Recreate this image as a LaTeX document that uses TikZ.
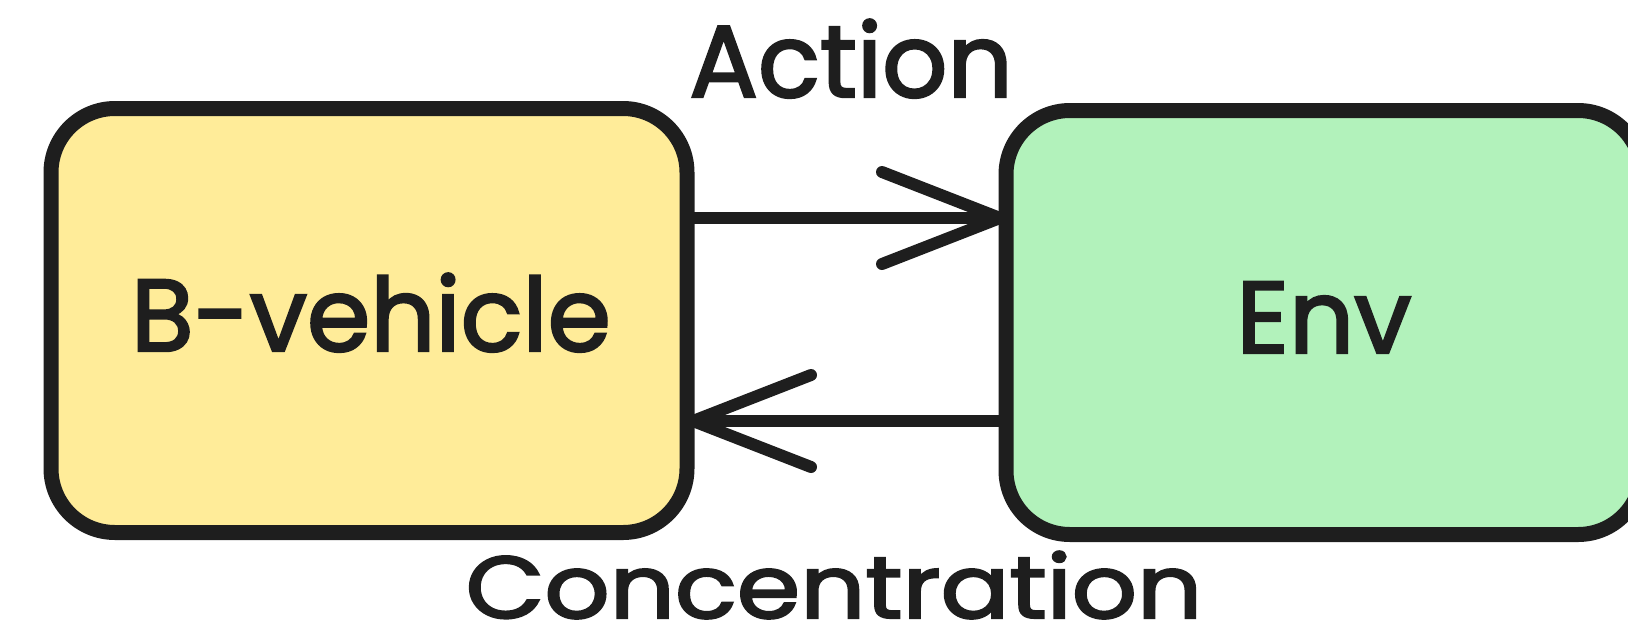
\documentclass[tikz,border=0pt]{standalone}
\usepackage{fontspec}
\setmainfont{Poppins}[FakeBold=2.4]
\usetikzlibrary{arrows.meta}
\definecolor{ink}{HTML}{1E1E1E}
\definecolor{sand}{HTML}{FFEC99}
\definecolor{mint}{HTML}{B2F2BB}

\begin{document}
\begin{tikzpicture}[x=1pt,y=-1pt,
  box/.style={draw=ink, line width=15pt, rounded corners=64pt,
    minimum width=636pt, minimum height=424pt, inner sep=0pt, outer sep=0pt},
  lbl/.style={text=ink, font=\fontsize{102}{120}\selectfont, inner sep=0pt, anchor=base},
  flow/.style={draw=ink, line width=12pt, line cap=round,
    -{Straight Barb[length=118pt,width=92pt,line width=12pt,line cap=round,line join=round]}}]

  % page frame
  \useasboundingbox (0,0) rectangle (1628,638);

  % the two blocks
  \node[box, fill=sand] (veh) at (369,320.5) {};
  \node[box, fill=mint] (env) at (1324,322.5) {};

  % block titles
  \node[lbl] (vehtxt) at (371,351) {B-vehicle};
  \node[lbl] (envtxt) at (1324,353) {Env};

  % rows of the two flows
  \coordinate (uprow) at (0,218);
  \coordinate (lowrow) at (0,421);

  % flows between the blocks
  \draw[flow] (veh.east |- uprow) -- (env.west |- uprow);
  \draw[flow] (env.west |- lowrow) -- (veh.east |- lowrow);

  % flow labels
  \node[lbl] (act) at (851,97) {Action};
  \node[lbl] (conc) at (834,618) {\scalebox{1}[0.86]{Concentration}};
\end{tikzpicture}
\end{document}
